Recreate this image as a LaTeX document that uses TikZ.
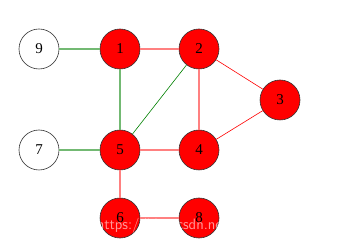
\documentclass[tikz,border=0pt]{standalone}
\usepackage{fontspec}
\setmainfont{Liberation Serif}
\usepackage{tikz}
\usetikzlibrary{positioning}

\begin{document}
\begin{tikzpicture}[x=1pt, y=-1pt, font=\fontsize{15}{17}\selectfont]
\tikzstyle{vtx}=[draw=black!80, line width=0.6pt, circle, minimum size=40pt, inner sep=0pt]
\tikzstyle{hot}=[vtx, fill=red]
\tikzstyle{cold}=[vtx, fill=white]
\tikzstyle{ge}=[draw=green!50!black!55, line width=1.6pt]
\tikzstyle{re}=[draw=red!50, line width=1.6pt]
\useasboundingbox (0,0) rectangle (350,245);
\node[cold] (n9) at (39,49) {9};
\node[hot] (n1) at (120,49) {1};
\node[hot] (n2) at (199,49) {2};
\node[hot] (n3) at (280,100) {3};
\node[cold] (n7) at (39,150) {7};
\node[hot] (n5) at (120,150) {5};
\node[hot] (n4) at (199,150) {4};
\node[hot] (n6) at (120,218) {6};
\node[hot] (n8) at (199,218) {8};
\draw[ge] (n9)--(n1);
\draw[ge] (n1)--(n5);
\draw[ge] (n7)--(n5);
\draw[green!50!black, line width=0.6pt] (n2)--(n5);
\draw[re] (n1)--(n2);
\draw[re] (n2)--(n4);
\draw[re] (n5)--(n4);
\draw[re] (n5)--(n6);
\draw[re] (n6)--(n8);
\draw[red, line width=0.6pt] (n2)--(n3);
\draw[red, line width=0.6pt] (n3)--(n4);
% watermark
\node[text=white, opacity=0.6, font=\sffamily\fontsize{15}{16}\selectfont] (wm) at (162,226) {https://blog.csdn.net};
\end{tikzpicture}
\end{document}
